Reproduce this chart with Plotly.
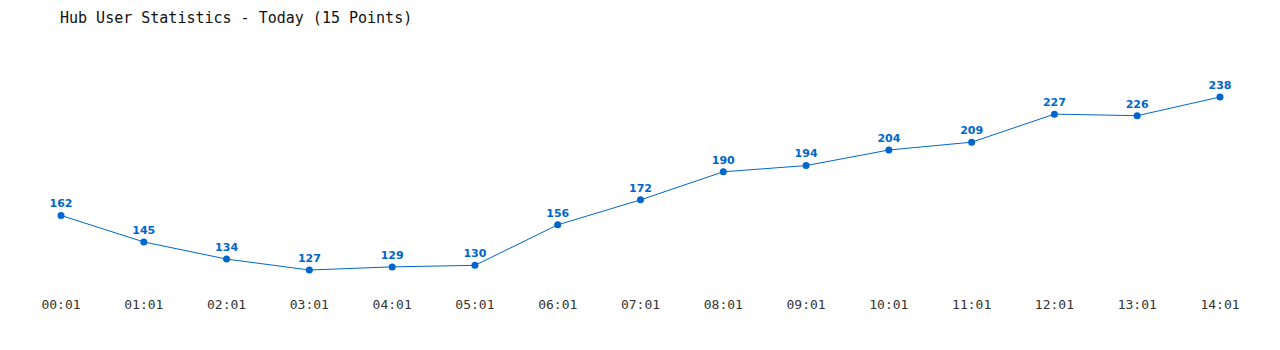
import plotly.graph_objects as go

times = ["00:01", "01:01", "02:01", "03:01", "04:01", "05:01", "06:01", "07:01",
         "08:01", "09:01", "10:01", "11:01", "12:01", "13:01", "14:01"]
users = [162, 145, 134, 127, 129, 130, 156, 172, 190, 194, 204, 209, 227, 226, 238]

BLUE = "#0066CC"

fig = go.Figure(go.Scatter(
    x=list(range(len(times))), y=users,
    mode="lines+markers+text",
    line=dict(color=BLUE, width=1),
    marker=dict(color=BLUE, size=7),
    text=[str(v) for v in users],
    textposition="top center",
    textfont=dict(family="Verdana, DejaVu Sans, sans-serif", size=11, color=BLUE, weight="bold"),
    hoverinfo="skip",
))

fig.update_layout(
    width=1280, height=350,
    margin=dict(l=40, r=40, t=40, b=60),
    paper_bgcolor="white", plot_bgcolor="white",
    showlegend=False,
    title=dict(text="Hub User Statistics - Today (15 Points)",
               x=60/1280, xanchor="left", y=1-18/350, yanchor="middle",
               font=dict(family="DejaVu Sans Mono, Liberation Mono, monospace", size=15, color="#111111")),
    xaxis=dict(tickmode="array", tickvals=list(range(len(times))), ticktext=times,
               range=[-0.2537, 14.2416], showgrid=False, zeroline=False, showline=False,
               ticks="", ticklabelstandoff=5,
               tickfont=dict(family="DejaVu Sans Mono, Liberation Mono, monospace", size=13, color="#333333")),
    yaxis=dict(range=[114.17, 274.57], visible=False),
)

fig.write_html("out.html")
